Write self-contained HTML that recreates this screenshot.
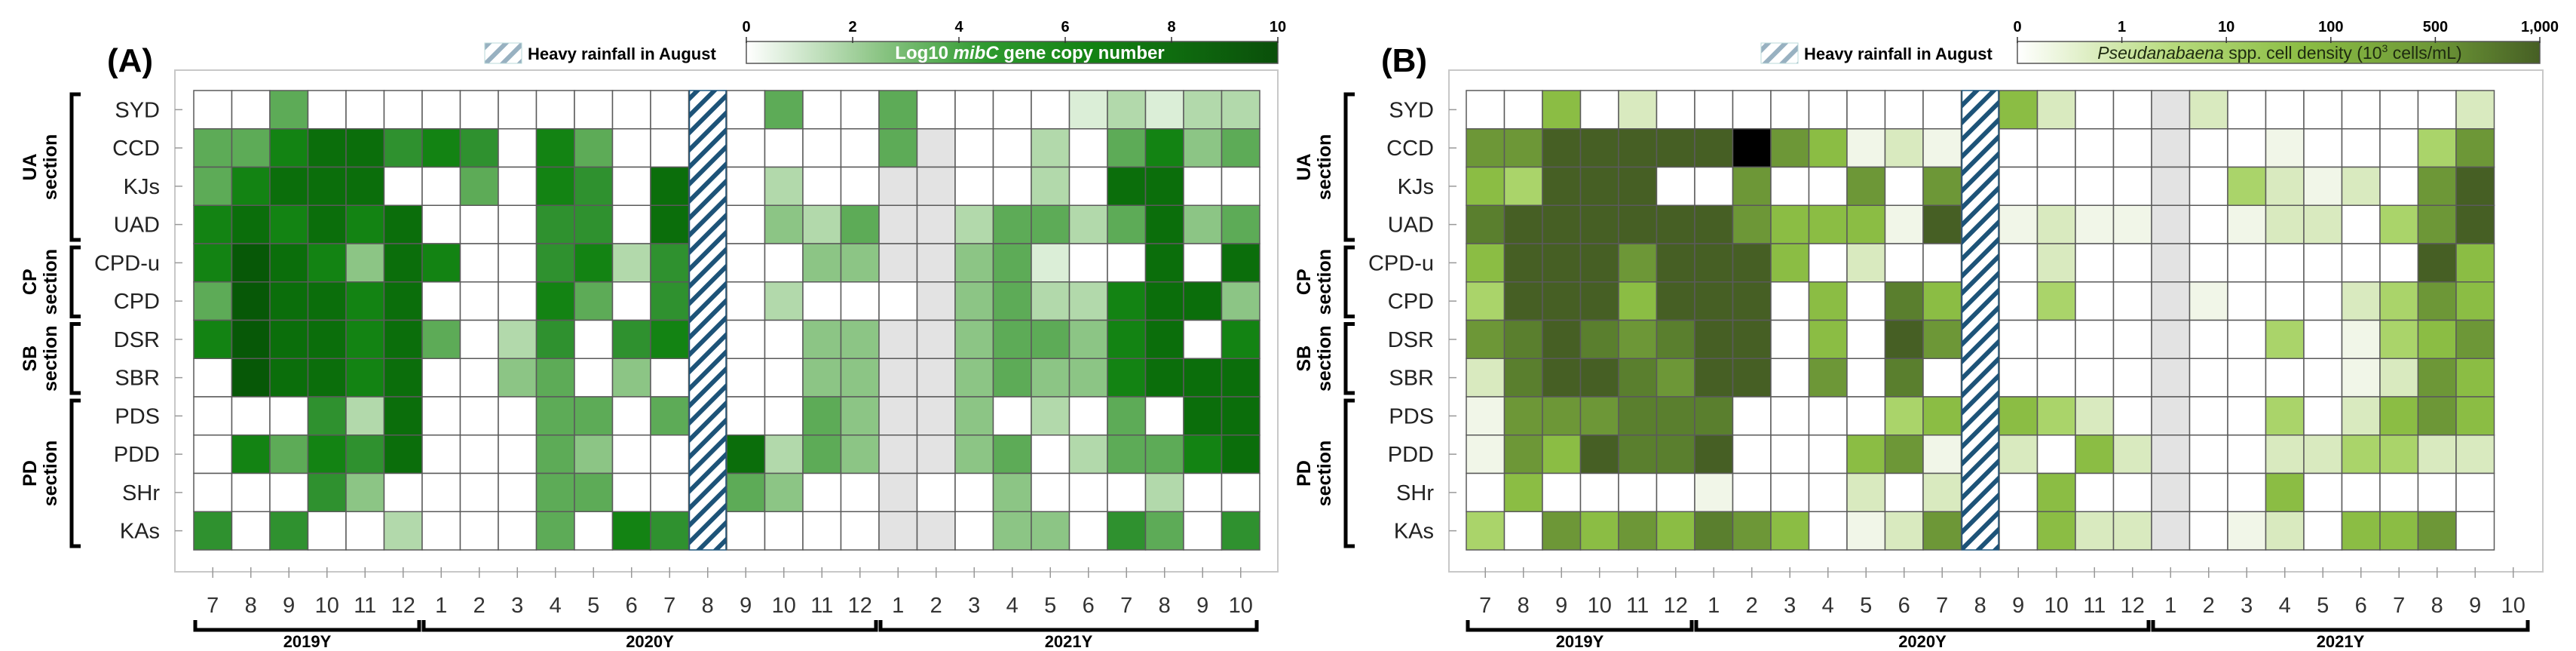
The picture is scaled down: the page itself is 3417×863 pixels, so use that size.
<!DOCTYPE html>
<html><head><meta charset="utf-8">
<style>
html,body{margin:0;padding:0;background:#fff;}
svg{display:block;font-family:"Liberation Sans",Arial,sans-serif;}
</style></head>
<body>
<svg id="chart" width="3417" height="863" viewBox="0 0 3417 863" xmlns="http://www.w3.org/2000/svg">
<defs>
<pattern id="hatch" patternUnits="userSpaceOnUse" width="16" height="16" patternTransform="rotate(45)">
<rect width="16" height="16" fill="#fff"/><rect x="0" y="0" width="6" height="16" fill="#1d5378"/>
</pattern>
<linearGradient id="gradA" x1="0" x2="1" y1="0" y2="0">
<stop offset="0" stop-color="#ffffff"/><stop offset="0.25" stop-color="#8cc585"/><stop offset="0.45" stop-color="#2f9a2f"/><stop offset="0.65" stop-color="#138313"/><stop offset="1" stop-color="#0a4f0a"/>
</linearGradient>
<linearGradient id="gradB" x1="0" x2="1" y1="0" y2="0">
<stop offset="0" stop-color="#ffffff"/><stop offset="0.3" stop-color="#b6da7c"/><stop offset="0.55" stop-color="#8bbd44"/><stop offset="0.8" stop-color="#6d9737"/><stop offset="1" stop-color="#465f24"/>
</linearGradient>
</defs>
<g id="root"></g>
</svg>
<script>
// ---- data ----
const rowLabels = ["SYD","CCD","KJs","UAD","CPD-u","CPD","DSR","SBR","PDS","PDD","SHr","KAs"];
const monthLabels = ["7","8","9","10","11","12","1","2","3","4","5","6","7","8","9","10","11","12","1","2","3","4","5","6","7","8","9","10"];
const yearLabels = ["2019Y","2020Y","2021Y"];
const hatchCol = 13;
// Panel A: log10 mibC level (0 = none, -1 = not measured, null = heavy rainfall)
const valuesA = [
 [0,0,5,0,0,0,0,0,0,0,0,0,0,null,0,5,0,0,5,0,0,0,0,2,3,2,3,3],
 [5,5,7,8,8,6,7,6,0,7,5,0,0,null,0,0,0,0,5,-1,0,0,3,0,5,7,4,5],
 [5,7,8,8,8,0,0,5,0,7,6,0,8,null,0,3,0,0,-1,-1,0,0,3,0,8,8,0,0],
 [7,8,7,8,7,8,0,0,0,6,6,0,8,null,0,4,3,5,-1,-1,3,5,5,3,5,8,4,5],
 [7,9,8,7,4,8,7,0,0,6,7,3,6,null,0,0,4,4,-1,-1,4,5,2,0,0,8,0,8],
 [5,9,8,8,7,8,0,0,0,7,5,0,6,null,0,3,0,0,0,-1,4,5,3,3,7,8,8,4],
 [7,9,8,8,7,8,5,0,3,6,0,6,7,null,0,0,4,4,-1,-1,4,5,5,4,7,8,0,7],
 [0,9,8,8,7,8,0,0,4,5,0,4,0,null,0,0,4,4,-1,-1,4,5,4,4,7,8,8,8],
 [0,0,0,6,3,8,0,0,0,5,5,0,5,null,0,0,5,4,-1,-1,4,0,3,0,5,0,8,8],
 [0,7,5,7,6,8,0,0,0,5,4,0,0,null,8,3,5,4,-1,-1,4,5,0,3,5,5,7,8],
 [0,0,0,6,4,0,0,0,0,5,5,0,0,null,5,4,0,0,-1,0,0,4,0,0,0,3,0,0],
 [6,0,6,0,0,3,0,0,0,5,0,7,6,null,0,0,0,0,-1,-1,0,4,4,0,6,5,0,6]
];
// Panel B: Pseudanabaena density level (0 = none, -1 = not measured, null = heavy rainfall)
const valuesB = [
 [0,0,4,0,2,0,0,0,0,0,0,0,0,null,4,2,0,0,-1,2,0,0,0,0,0,0,2],
 [5,5,7,7,7,7,7,9,5,4,1,2,1,null,0,0,0,0,-1,0,0,1,0,0,0,3,5],
 [4,3,7,7,7,0,0,5,0,0,5,0,5,null,0,0,0,0,-1,0,3,2,1,2,0,5,7],
 [6,7,7,7,7,7,7,5,4,4,4,1,7,null,1,2,1,1,-1,0,1,2,2,0,3,5,7],
 [4,7,7,7,5,7,7,7,4,0,2,0,0,null,0,2,0,0,-1,0,0,0,0,0,0,7,4],
 [3,7,7,7,4,7,7,7,0,4,0,6,4,null,0,3,0,0,-1,1,0,0,0,2,3,5,4],
 [5,6,7,6,5,6,7,7,0,4,0,7,5,null,0,0,0,0,-1,0,0,3,0,1,3,4,5],
 [2,6,7,7,6,5,7,7,0,5,0,6,0,null,0,0,0,0,-1,0,0,0,0,1,2,5,4],
 [1,5,5,5,6,6,6,0,0,0,0,3,4,null,4,3,2,0,-1,0,0,3,0,2,4,5,4],
 [1,5,4,7,6,6,7,0,0,0,4,5,1,null,2,0,4,2,-1,0,0,2,2,3,3,2,2],
 [0,4,0,0,0,0,1,0,0,0,2,0,2,null,0,4,0,0,-1,0,0,4,0,0,0,0,0],
 [3,0,5,4,5,4,6,5,4,0,1,2,5,null,0,4,2,2,-1,0,1,2,0,4,4,5,0]
];
const colorbarTicksA = ["0","2","4","6","8","10"];
const colorbarTicksB = ["0","1","10","100","500","1,000"];
const sections = [["UA","section",0,3],["CP","section",4,5],["SB","section",6,7],["PD","section",8,11]];

// ---- styles ----
const paletteA = {2:"#dbeed7",3:"#b2d9ab",4:"#8cc585",5:"#5dab57",6:"#2f912f",7:"#138313",8:"#0b6e0b",9:"#075807"};
const paletteB = {1:"#f1f6e8",2:"#d9eabf",3:"#aad46a",4:"#8bbd44",5:"#6d9737",6:"#5a7f2e",7:"#465f24",8:"#3a4f1e",9:"#000000"};
const NS = "http://www.w3.org/2000/svg";
const root = document.getElementById('root');
function mk(tag, attrs, parent, text){
  const e = document.createElementNS(NS, tag);
  for (const k in attrs) e.setAttribute(k, attrs[k]);
  if (text !== undefined) e.textContent = text;
  (parent||root).appendChild(e); return e;
}
const cellW = 50.5, cellH = 50.75, gridTop = 120;

function panel(cfg){
  const g = mk('g', {});
  
  
  const gx = cfg.gx;
  const xOf = i => gx + i*cellW;
  const yOf = r => gridTop + r*cellH;
  // frame
  const fr = mk('rect', {x:cfg.fx, y:93, width:cfg.fr-cfg.fx, height:758-93, fill:'none', stroke:'#c8c8c8', 'stroke-width':2}, g);
  
  
  // bottom axis ticks
  for (let i=0;i<monthLabels.length;i++){
    const cx = xOf(i)+cellW/2;
    mk('line',{x1:cx,x2:cx,y1:752,y2:766,stroke:'#999','stroke-width':1.5},g);
    const t = mk('text',{x:cx,y:812,'font-size':29,'text-anchor':'middle',fill:'#333'},g,monthLabels[i]);
    
    
  }
  // cells
  const vals = cfg.values, pal = cfg.palette;
  for (let r=0;r<vals.length;r++){
    for (let c=0;c<vals[r].length;c++){
      const v = vals[r][c];
      if (v === null) continue;
      let fill = '#ffffff';
      if (v === -1) fill = '#e3e3e3'; else if (v > 0) fill = pal[v];
      const rc = mk('rect',{x:xOf(c),y:yOf(r),width:cellW,height:cellH,fill:fill,stroke:'#5a5a5a','stroke-width':1.5},g);
      
      
    }
  }
  const h = mk('rect',{x:xOf(hatchCol)+1,y:yOf(0),width:cellW-2,height:cellH*rowLabels.length,fill:'url(#hatch)',stroke:'#1d5378','stroke-width':1.5},g);
  
  
  // row labels
  for (let r=0;r<rowLabels.length;r++){
    const cy = yOf(r)+cellH/2;
    mk('line',{x1:cfg.fx,x2:cfg.fx+10,y1:cy,y2:cy,stroke:'#999','stroke-width':1.5},g);
    const t = mk('text',{x:cfg.fx-20,y:cy+10,'font-size':29,'text-anchor':'end',fill:'#222'},g,rowLabels[r]);
    
    
  }
  // sections
  const bx = cfg.fx-137;
  for (const s of sections){
    const y1 = yOf(s[2])+5, y2 = yOf(s[3]+1)-5;
    mk('path',{d:`M${bx+12},${y1} H${bx} V${y2} H${bx+12}`,fill:'none',stroke:'#000','stroke-width':5},g);
    const cy = (y1+y2)/2;
    const t1 = mk('text',{x:0,y:0,'font-size':25,'font-weight':'bold','text-anchor':'middle',transform:`translate(${bx-47},${cy}) rotate(-90)`},g,s[0]);
    
    
    const t2 = mk('text',{x:0,y:0,'font-size':25,'font-weight':'bold','text-anchor':'middle',transform:`translate(${bx-20},${cy}) rotate(-90)`},g,s[1]);
    
    
  }
  // year bars
  const yb = [[0,5],[6,17],[18,27]];
  for (let k=0;k<3;k++){
    const x1 = xOf(yb[k][0])+2, x2 = Math.min(xOf(yb[k][1]+1)-4, cfg.fr-20);
    mk('path',{d:`M${x1},${822} V${835} H${x2} V${822}`,fill:'none',stroke:'#000','stroke-width':5},g);
    const t = mk('text',{x:(x1+x2)/2,y:864-6,'font-size':22,'font-weight':'bold','text-anchor':'middle'},g,yearLabels[k]);
    
    
  }
  // panel letter
  const pl = mk('text',{x:cfg.fx-90,y:95,'font-size':44,'font-weight':'bold'},g,cfg.letter);
  
  
  // legend hatch
  const lh = mk('rect',{x:cfg.legX,y:57,width:49,height:27,fill:'url(#hatch)',stroke:'#6aa',opacity:0.45},g);
  
  
  const lt = mk('text',{x:cfg.legX+57,y:79,'font-size':22,'font-weight':'bold'},g,'Heavy rainfall in August');
  
  
  // colorbar
  const cb = mk('rect',{x:cfg.cbx1,y:55,width:cfg.cbx2-cfg.cbx1,height:29,fill:cfg.grad,stroke:'#555','stroke-width':1.5},g);
  
  
  const tks = cfg.cbTicks;
  for (let i=0;i<tks.length;i++){
    const x = cfg.cbx1 + (cfg.cbx2-cfg.cbx1)*i/(tks.length-1);
    mk('line',{x1:x,x2:x,y1:49,y2:57,stroke:'#333','stroke-width':1.5},g);
    const t = mk('text',{x:x,y:42,'font-size':20,'font-weight':'bold','text-anchor':'middle'},g,tks[i]);
    
    
  }
  return g;
}

panel({name:'panel-a',letter:'(A)',fx:232,fr:1695,gx:257,values:valuesA,palette:paletteA,legX:643,cbx1:990,cbx2:1695,grad:'url(#gradA)',cbTicks:colorbarTicksA});
panel({name:'panel-b',letter:'(B)',fx:1922,fr:3373,gx:1945,values:valuesB,palette:paletteB,legX:2336,cbx1:2676,cbx2:3369,grad:'url(#gradB)',cbTicks:colorbarTicksB});

// colorbar titles
const ta = mk('text',{x:1366,y:78,'font-size':24,'font-weight':'bold','text-anchor':'middle',fill:'#fff'});


mk('tspan',{},ta,'Log10 ');
mk('tspan',{'font-style':'italic'},ta,'mibC');
mk('tspan',{},ta,' gene copy number');
const tb = mk('text',{x:3024,y:78,'font-size':23,'text-anchor':'middle',fill:'#1e2a10'});


mk('tspan',{'font-style':'italic'},tb,'Pseudanabaena');
mk('tspan',{},tb,' spp. cell density (10');
mk('tspan',{'font-size':14,dy:-9},tb,'3');
mk('tspan',{dy:9},tb,' cells/mL)');
</script>
</body></html>
